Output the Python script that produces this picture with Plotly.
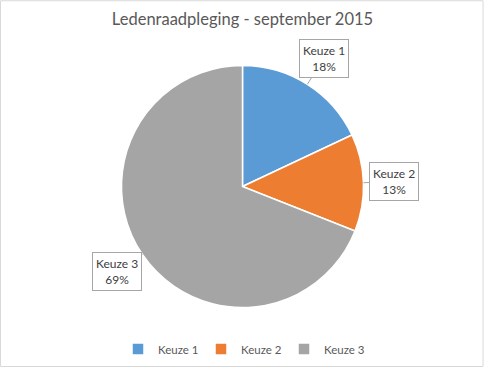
import math
import plotly.graph_objects as go

categories = ["Keuze 1", "Keuze 2", "Keuze 3"]
values = [18, 13, 69]
colors = ["#5B9BD5", "#ED7D31", "#A5A5A5"]
title_text = "Ledenraadpleging - september 2015"

W, H = 485, 368
cx, cy, R = 242.5, 186.5, 121.0  # pie centre / radius in px
FONT = "Lato, Open Sans, sans-serif"

fig = go.Figure()
fig.add_trace(go.Pie(
    labels=categories, values=values, sort=False, direction="clockwise", rotation=0,
    marker=dict(colors=colors, line=dict(color="white", width=1.5)),
    textinfo="none", hoverinfo="label+percent",
    domain=dict(x=[(cx - R) / W, (cx + R) / W], y=[1 - (cy + R) / H, 1 - (cy - R) / H]),
))

total = sum(values)
cum = 0
annotations = []
for lab, v in zip(categories, values):
    mid = (cum + v / 2) / total * 2 * math.pi
    cum += v
    pct = round(v / total * 100)
    ex, ey = cx + R * math.sin(mid), cy - R * math.cos(mid)
    lx, ly = cx + 1.25 * R * math.sin(mid), cy - 1.25 * R * math.cos(mid)
    annotations.append(dict(
        x=ex / W, y=1 - ey / H, xref="paper", yref="paper",
        ax=lx - ex, ay=ly - ey, axref="pixel", ayref="pixel",
        text=f"{lab}<br>{pct}%", showarrow=True, arrowhead=0, arrowwidth=1,
        arrowcolor="#A6A6A6", bordercolor="#A6A6A6", borderwidth=1, borderpad=3,
        bgcolor="white", font=dict(family=FONT, size=12, color="#404040"),
        align="center",
    ))

fig.update_layout(
    width=W, height=H, margin=dict(l=0, r=0, t=0, b=0),
    paper_bgcolor="white", plot_bgcolor="white",
    title=dict(text=title_text, x=0.5, xanchor="center", y=1 - 19 / H, yanchor="middle",
               font=dict(family=FONT, size=16.5, color="#595959")),
    legend=dict(orientation="h", x=0.5, xanchor="center", y=1 - 349 / H, yanchor="middle",
                font=dict(family=FONT, size=11.5, color="#595959"),
                itemwidth=30, traceorder="normal", entrywidth=38, entrywidthmode="pixels"),
    annotations=annotations,
    shapes=[dict(type="rect", xref="paper", yref="paper", x0=0.001, y0=0.004, x1=0.996, y1=0.998,
                 line=dict(color="#D9D9D9", width=1))],
)

fig.write_html("out.html", config={"displayModeBar": False},
               post_script="document.body.style.margin='0';document.body.style.overflow='hidden';")
